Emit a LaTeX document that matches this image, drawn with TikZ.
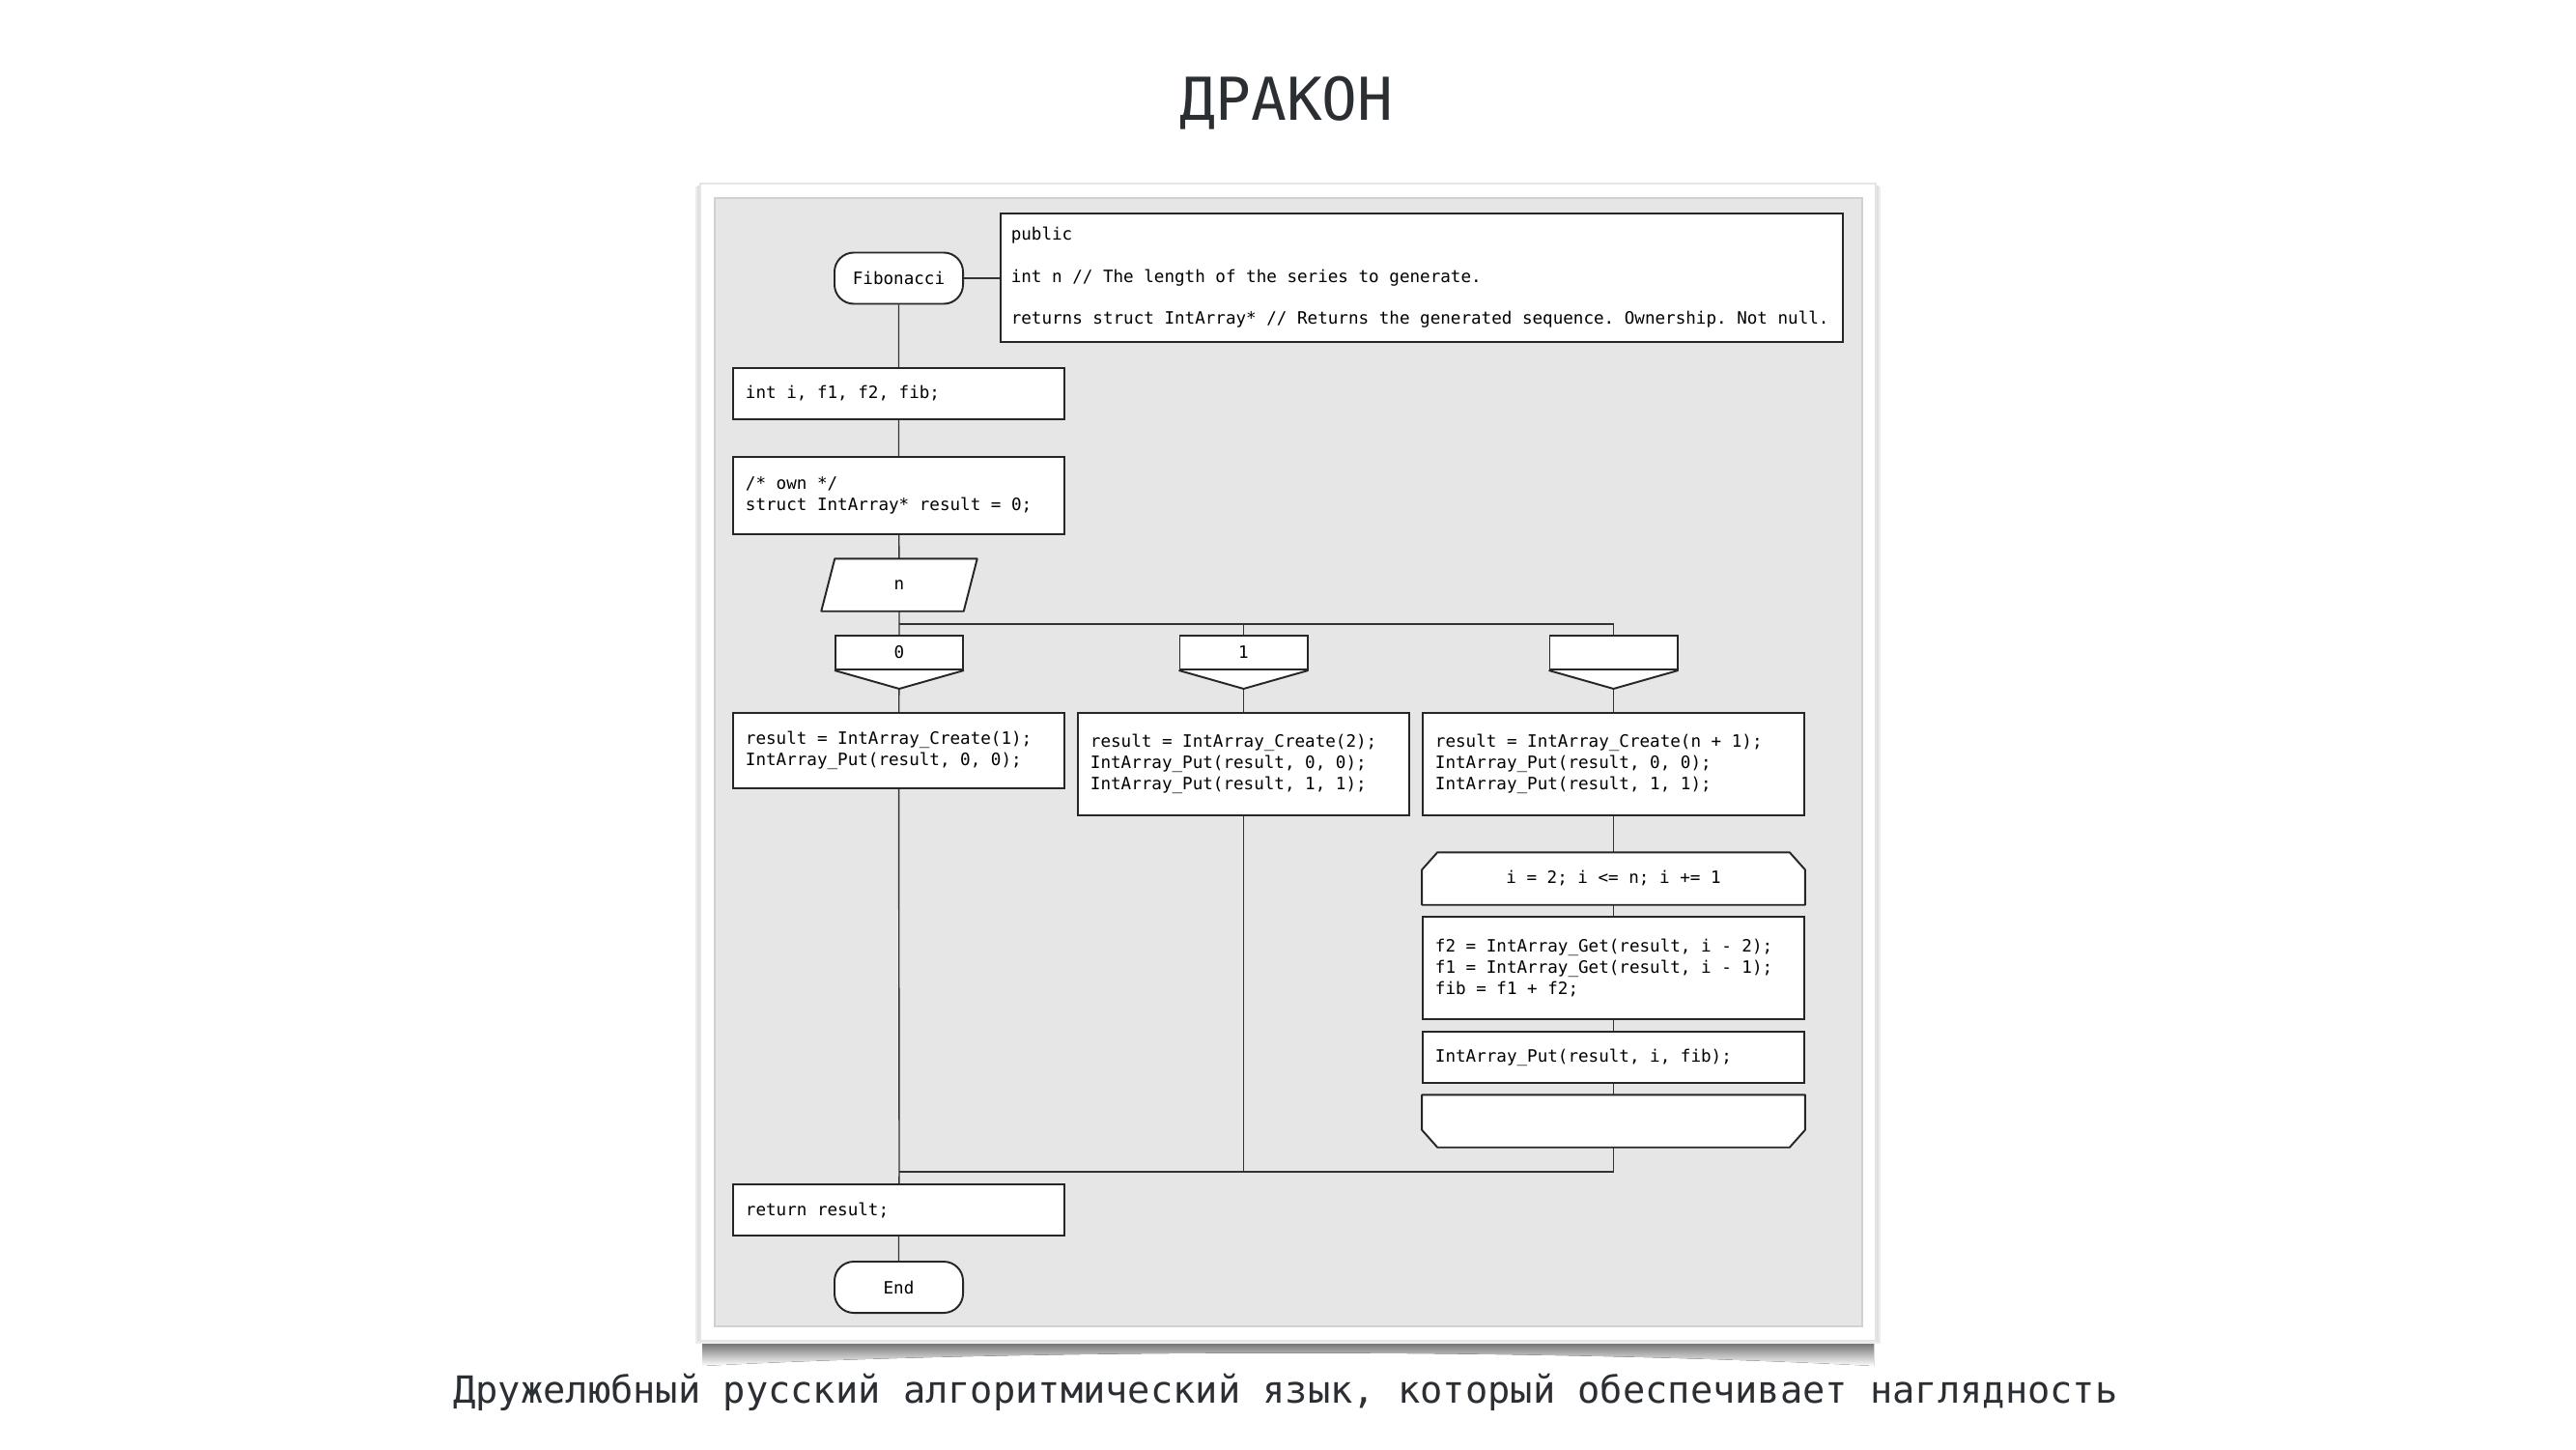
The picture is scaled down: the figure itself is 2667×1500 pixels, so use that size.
\documentclass[tikz,border=0pt]{standalone}
\usepackage{fontspec}
\setmonofont{DejaVu Sans Mono}
\usetikzlibrary{backgrounds}
\definecolor{panel}{HTML}{E6E6E6}
\definecolor{ink}{HTML}{2B2F33}
\newcommand{\drk}{\ttfamily\fontsize{5.0}{6.2}\selectfont}

\begin{document}
\begin{tikzpicture}[x=0.01cm,y=-0.01cm,
    every node/.style={font=\drk, text=black},
    box/.style={draw=black!85, line width=0.55pt, fill=white, inner xsep=0.13cm, inner ysep=0pt},
    act/.style={box, text width=3.17cm, align=left, minimum height=#1,
      execute at begin node={\frenchspacing\spaceskip=0.602em\xspaceskip=0.602em\relax}},
    term/.style={box, rounded corners=0.2cm, minimum width=1.33cm, minimum height=0.53cm},
    casebox/.style={box, minimum width=1.32cm, minimum height=0.35cm, inner xsep=0pt},
    bare/.style={inner sep=0pt, minimum height=0.53cm},
    wire/.style={draw=black!80, line width=0.4pt},
    outline/.style={draw=black!85, line width=0.55pt, fill=white, line join=bevel}]
  \useasboundingbox (0,0) rectangle (2667,1500);

  % card with shadow
  \begin{scope}[on background layer]
    \fill[top color=black!65, bottom color=white] (727,1386) -- (1940,1386) -- (1940,1414)
      .. controls (1600,1396) and (1067,1396) .. (727,1414) -- cycle;
    \fill[black!7] (720,193) rectangle (1947,1391);
    \fill[black!12] (722,192) rectangle (1945,1389);
    \filldraw[fill=white, draw=black!10] (725,190) rectangle (1942,1388);
    \filldraw[fill=panel, draw=black!18] (740,205) rectangle (1928,1373);
  \end{scope}

  \node[font=\ttfamily\fontsize{17.4}{20}\selectfont, text=ink] (title) at (1332,107) {ДРАКОН};
  \node[font=\ttfamily\fontsize{11}{13}\selectfont, text=ink] (sub) at (1331,1441)
    {Дружелюбный русский алгоритмический язык, который обеспечивает наглядность};

  % header
  \node[term] (fib) at (930.5,288) {Fibonacci};
  \node[act=1.33cm, text width=8.5cm, inner xsep=0.11cm] (note) at (1472,287.5)
    {public\\[6.2pt]int n // The length of the series to generate.\\[6.2pt]returns struct IntArray* // Returns the generated sequence. Ownership. Not null.};

  \node[act=0.53cm] (vars) at (930.5,407.5) {int i, f1, f2, fib;};
  \node[act=0.80cm] (own) at (930.5,513) {/* own */\\struct IntArray* result = 0;};
  \node[bare, minimum width=1.46cm] (sel) at (931,605.5) {n};

  % cases
  \node[casebox] (c0) at (931,675.5) {0};
  \node[casebox] (c1) at (1287.5,675.5) {1};
  \node[casebox] (c2) at (1670.5,675.5) {};

  \node[act=0.78cm] (a0) at (930.5,777) {result = IntArray\_Create(1);\\IntArray\_Put(result, 0, 0);};
  \node[act=1.06cm] (a1) at (1287.5,791) {result = IntArray\_Create(2);\\IntArray\_Put(result, 0, 0);\\IntArray\_Put(result, 1, 1);};
  \node[act=1.06cm, text width=3.69cm] (a2) at (1670.5,791) {result = IntArray\_Create(n + 1);\\IntArray\_Put(result, 0, 0);\\IntArray\_Put(result, 1, 1);};

  % loop
  \node[bare, minimum width=3.95cm] (lb) at (1670.5,909.5) {i = 2; i <= n; i += 1};
  \node[act=1.06cm, text width=3.69cm] (body) at (1670.5,1002) {f2 = IntArray\_Get(result, i - 2);\\f1 = IntArray\_Get(result, i - 1);\\fib = f1 + f2;};
  \node[act=0.53cm, text width=3.69cm] (put) at (1670.5,1094.5) {IntArray\_Put(result, i, fib);};
  \node[bare, minimum width=3.95cm] (le) at (1670.5,1160.5) {};

  \node[act=0.53cm] (ret) at (930.5,1252.5) {return result;};
  \node[term] (end) at (930.5,1332.5) {End};

  \coordinate (split) at (931,646);
  \coordinate (join) at (931,1213);

  \begin{scope}[on background layer]
    \draw[wire] (fib) -- (vars) -- (own) -- (sel) -- (split) -- (c0) -- (a0) -- (join) -- (ret) -- (end);
    \draw[wire] (fib.east) -- (fib.east -| note.west);
    \draw[wire] (split) -| (c1);
    \draw[wire] (split) -| (c2);
    \draw[wire] (c1) -- (a1) |- (join);
    \draw[wire] (c2) -- (a2) -- (lb) -- (body) -- (put) -- (le) |- (join);
    % shapes
    \draw[outline] ([xshift=0.07cm]sel.north west) -- ([xshift=0.07cm]sel.north east)
      -- ([xshift=-0.07cm]sel.south east) -- ([xshift=-0.07cm]sel.south west) -- cycle;
    \foreach \c in {c0,c1,c2}
      \draw[outline] (\c.south west) -- ([yshift=-0.19cm]\c.south) -- (\c.south east);
    \draw[outline] ([xshift=0.16cm]lb.north west) -- ([xshift=-0.16cm]lb.north east)
      -- ([yshift=-0.18cm]lb.north east) -- (lb.south east) -- (lb.south west)
      -- ([yshift=-0.18cm]lb.north west) -- cycle;
    \draw[outline] (le.north west) -- (le.north east) -- ([yshift=0.18cm]le.south east)
      -- ([xshift=-0.16cm]le.south east) -- ([xshift=0.16cm]le.south west)
      -- ([yshift=0.18cm]le.south west) -- cycle;
  \end{scope}
\end{tikzpicture}
\end{document}
